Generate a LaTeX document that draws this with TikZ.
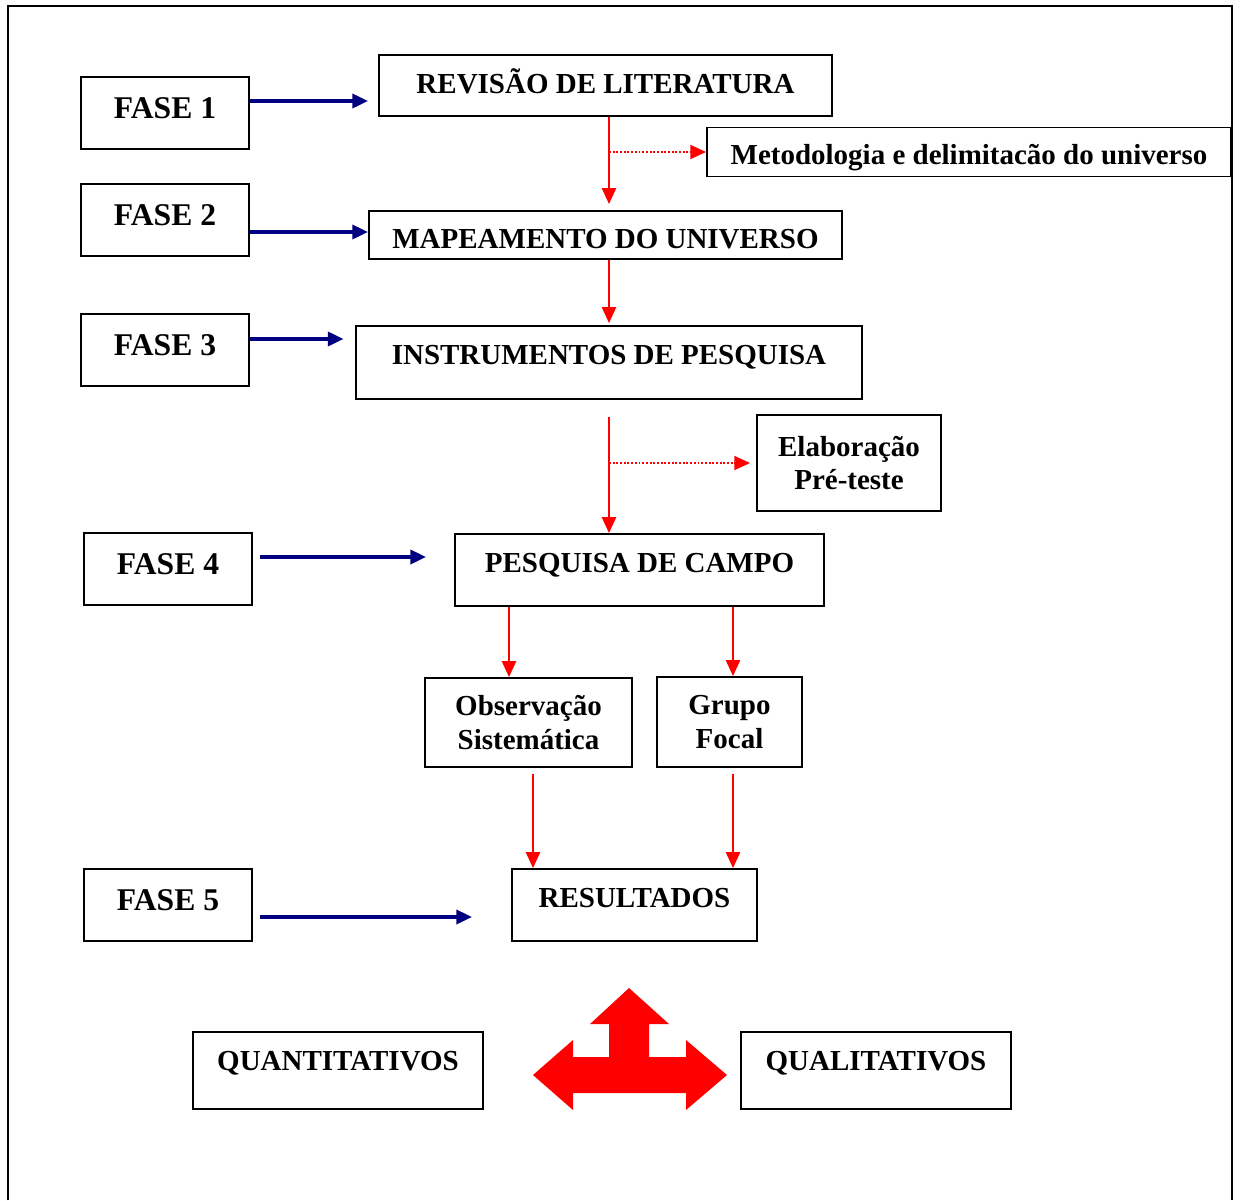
\documentclass[tikz,border=0pt]{standalone}
\usepackage{fontspec}
\setmainfont{Liberation Serif}
\usetikzlibrary{arrows.meta,positioning,calc}
\definecolor{AzulFase}{HTML}{000080}
\definecolor{Vermelho}{HTML}{FF0000}

\begin{document}
\begin{tikzpicture}[x=0.02cm,y=-0.02cm,
  caixa/.style={draw,line width=1.1pt,inner sep=0pt,font=\fontsize{16.5}{19.3}\selectfont\bfseries},
  fasebox/.style={caixa,font=\fontsize{18}{21}\selectfont\bfseries,minimum width=3.36cm,text height=0.83cm,text depth=0.61cm},
  azul/.style={-{Triangle[length=9pt,width=8pt]},AzulFase,line width=2pt},
  verm/.style={-{Triangle[length=9pt,width=8pt]},Vermelho,line width=1.1pt},
  pont/.style={verm,densely dotted,line width=1pt}]
        \useasboundingbox (0,0) rectangle (1240,1200);
        \draw[line width=1.1pt] (8,1200) -- (8,6) -- (1232,6) -- (1232,1200);
        \node[fasebox] (f1) at (165,113) {FASE 1};
        \node[fasebox] (f2) at (165,220) {FASE 2};
        \node[fasebox] (f3) at (165,350) {FASE 3};
        \node[fasebox] (f4) at (168,569) {FASE 4};
        \node[fasebox] (f5) at (168,905) {FASE 5};
        \node[caixa,minimum width=9.06cm,text height=0.77cm,text depth=0.45cm] (rev) at (605.5,85.5) {REVISÃO DE LITERATURA};
        \node[caixa,minimum width=10.48cm,text height=0.74cm,text depth=0.24cm] (metod) at (969,152) {Metodologia e delimitacão do universo};
        \node[caixa,minimum width=9.46cm,text height=0.75cm,text depth=0.21cm] (mapa) at (605.5,235) {MAPEAMENTO DO UNIVERSO};
        \node[caixa,minimum width=10.14cm,text height=0.77cm,text depth=0.69cm] (instr) at (609,362.5) {INSTRUMENTOS DE PESQUISA};
        \node[caixa,align=center,minimum width=3.68cm,minimum height=1.92cm] (elab) at (849,463) {Elaboração\\Pré-teste};
        \node[caixa,minimum width=7.38cm,text height=0.77cm,text depth=0.67cm] (campo) at (639.5,570) {PESQUISA DE CAMPO};
        \node[caixa,align=center,minimum width=4.14cm,minimum height=1.78cm] (obs) at (528.5,722.5) {Observação\\Sistemática};
        \node[caixa,align=center,minimum width=2.9cm,minimum height=1.8cm] (grupo) at (729.5,722) {Grupo\\Focal};
        \node[caixa,minimum width=4.9cm,text height=0.77cm,text depth=0.67cm] (res) at (634.5,905) {RESULTADOS};
        \node[caixa,minimum width=5.8cm,text height=0.77cm,text depth=0.77cm] (quant) at (338,1070.5) {QUANTITATIVOS};
        \node[caixa,minimum width=5.4cm,text height=0.77cm,text depth=0.77cm] (qual) at (876,1070.5) {QUALITATIVOS};
        \draw[azul,shorten >=0.2cm] ($(f1.east)+(0,-12)$) coordinate (a1) -- (a1 -| rev.west);
        \draw[azul] ($(f2.east)+(0,12)$) coordinate (a2) -- (a2 -| mapa.west);
        \draw[azul,shorten >=0.22cm] ($(f3.east)+(0,-11)$) coordinate (a3) -- (a3 -| instr.west);
        \draw[azul,shorten <=0.14cm,shorten >=0.56cm] ($(f4.east)+(0,-12)$) coordinate (a4) -- (a4 -| campo.west);
        \draw[azul,shorten <=0.14cm,shorten >=0.78cm] ($(f5.east)+(0,12)$) coordinate (a5) -- (a5 -| res.west);
        \draw[verm,shorten >=0.12cm] ($(rev.south)+(3.5,0)$) coordinate (e1) -- (e1 |- mapa.north);
        \draw[pont] (metod.west -| e1) -- (metod.west);
        \draw[verm,shorten >=0.04cm] (mapa.south -| instr.north) -- (instr.north);
        \draw[verm,shorten <=0.34cm] (instr.south) -- (instr.south |- campo.north);
        \draw[pont,shorten >=0.12cm] (elab.west -| instr.south) -- (elab.west);
        \coordinate (e2) at ($(obs.north)+(-19.5,0)$);
        \coordinate (e5) at ($(grupo.north)+(3.5,0)$);
        \draw[verm] (e2 |- campo.south) -- (e2);
        \draw[verm] (e5 |- campo.south) -- (e5);
        \draw[verm,shorten <=0.12cm] ($(obs.south)+(4.5,0)$) coordinate (e3) -- (e3 |- res.north);
        \draw[verm,shorten <=0.12cm] ($(grupo.south)+(3.5,0)$) coordinate (e4) -- (e4 |- res.north);
        \fill[Vermelho] (533,1075) -- (573,1040) -- (573,1057) -- (609,1057) -- (609,1024) -- (590,1024) -- (629,988) -- (669,1024) -- (649,1024) -- (649,1057) -- (686,1057) -- (686,1040) -- (727,1075) -- (686,1110) -- (686,1093) -- (573,1093) -- (573,1110) -- cycle;
      \end{tikzpicture}
\end{document}
